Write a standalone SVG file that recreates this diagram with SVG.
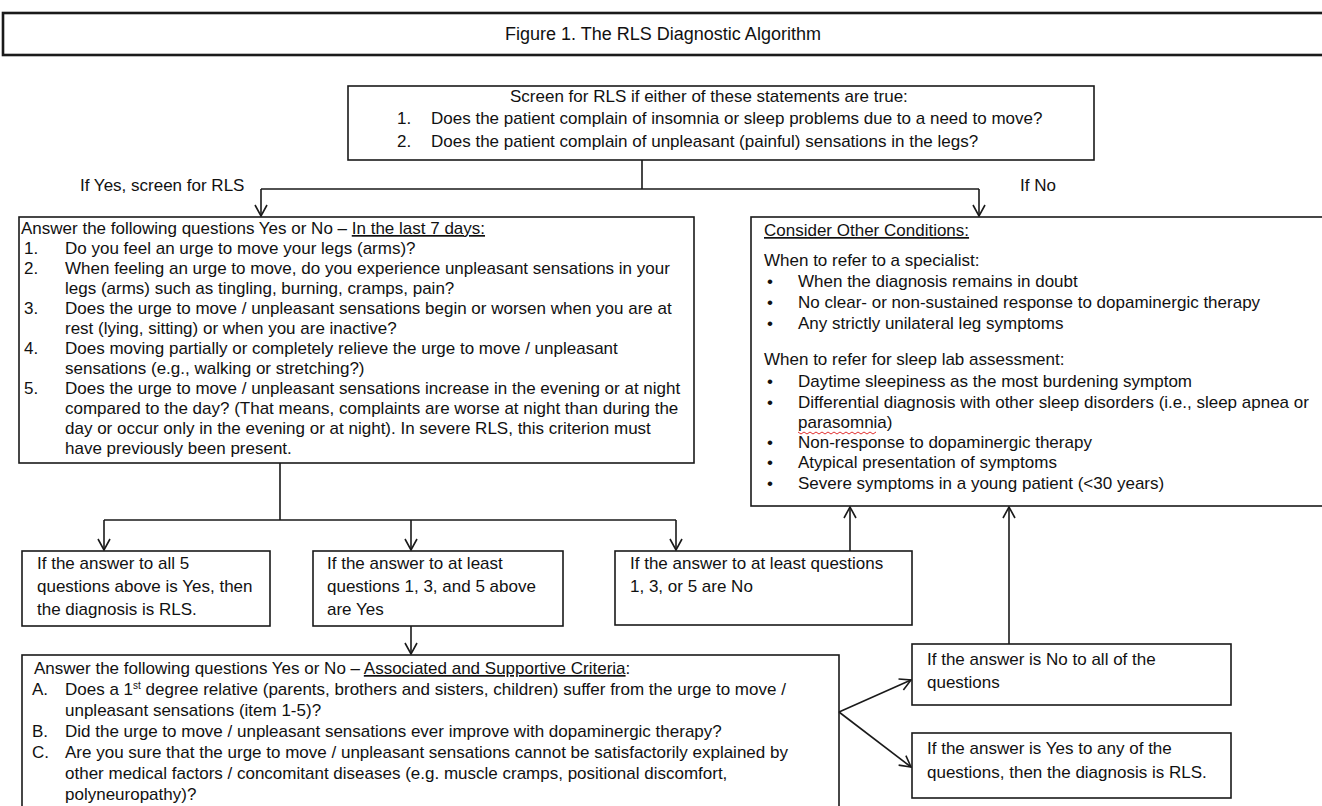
<svg xmlns="http://www.w3.org/2000/svg" width="1322" height="806" viewBox="0 0 1322 806">
<defs>
<style>
.box{fill:#fff;stroke:#1a1a1a;stroke-width:1.6}
.title{fill:#fff;stroke:#1a1a1a;stroke-width:2.6}
.t{font-family:"Liberation Sans",Arial,sans-serif;font-size:17px;fill:#111}
.c{fill:none;stroke:#1a1a1a;stroke-width:1.6}
.u{text-decoration:underline}
</style>
<marker id="ah" viewBox="0 0 14 14" markerUnits="userSpaceOnUse" markerWidth="14" markerHeight="14" refX="13" refY="7" orient="auto">
<path d="M2,1 L13,7 L2,13" fill="none" stroke="#1a1a1a" stroke-width="1.6"/>
</marker>
</defs>
<rect width="1322" height="806" fill="#fff"/>

<g id="title">
<rect class="title" x="3" y="13" width="1330" height="42"/>
<text class="t" x="663" y="40" text-anchor="middle" style="font-size:18px">Figure 1. The RLS Diagnostic Algorithm</text>
</g>

<g id="screen">
<rect class="box" x="348" y="86" width="746" height="74"/>
<text class="t" x="510" y="102">Screen for RLS if either of these statements are true:</text>
<text class="t" x="397" y="124">1.</text>
<text class="t" x="431" y="124">Does the patient complain of insomnia or sleep problems due to a need to move?</text>
<text class="t" x="397" y="147">2.</text>
<text class="t" x="431" y="147">Does the patient complain of unpleasant (painful) sensations in the legs?</text>
</g>

<g id="labels">
<text class="t" x="80" y="191">If Yes, screen for RLS</text>
<text class="t" x="1020" y="191">If No</text>
</g>

<g id="questions">
<rect class="box" x="19" y="217" width="675" height="246"/>
<text class="t" x="21" y="234">Answer the following questions Yes or No – <tspan class="u">In the last 7 days:</tspan></text>
<text class="t" x="24" y="254">1.</text><text class="t" x="65" y="254">Do you feel an urge to move your legs (arms)?</text>
<text class="t" x="24" y="274">2.</text><text class="t" x="65" y="274">When feeling an urge to move, do you experience unpleasant sensations in your</text>
<text class="t" x="65" y="294">legs (arms) such as tingling, burning, cramps, pain?</text>
<text class="t" x="24" y="314">3.</text><text class="t" x="65" y="314">Does the urge to move / unpleasant sensations begin or worsen when you are at</text>
<text class="t" x="65" y="334">rest (lying, sitting) or when you are inactive?</text>
<text class="t" x="24" y="354">4.</text><text class="t" x="65" y="354">Does moving partially or completely relieve the urge to move / unpleasant</text>
<text class="t" x="65" y="374">sensations (e.g., walking or stretching?)</text>
<text class="t" x="24" y="394">5.</text><text class="t" x="65" y="394">Does the urge to move / unpleasant sensations increase in the evening or at night</text>
<text class="t" x="65" y="414">compared to the day? (That means, complaints are worse at night than during the</text>
<text class="t" x="65" y="434">day or occur only in the evening or at night). In severe RLS, this criterion must</text>
<text class="t" x="65" y="454">have previously been present.</text>
</g>

<g id="other">
<rect class="box" x="751" y="217" width="600" height="289"/>
<text class="t u" x="764" y="236">Consider Other Conditions:</text>
<text class="t" x="764" y="266">When to refer to a specialist:</text>
<text class="t" x="767" y="287">•</text><text class="t" x="798" y="287">When the diagnosis remains in doubt</text>
<text class="t" x="767" y="308">•</text><text class="t" x="798" y="308">No clear- or non-sustained response to dopaminergic therapy</text>
<text class="t" x="767" y="329">•</text><text class="t" x="798" y="329">Any strictly unilateral leg symptoms</text>
<text class="t" x="764" y="365">When to refer for sleep lab assessment:</text>
<text class="t" x="767" y="387">•</text><text class="t" x="798" y="387">Daytime sleepiness as the most burdening symptom</text>
<text class="t" x="767" y="408">•</text><text class="t" x="798" y="408">Differential diagnosis with other sleep disorders (i.e., sleep apnea or</text>
<text class="t" x="798" y="428">parasomnia)</text>
<path d="M798,432 l3,2 l3,-2 l3,2 l3,-2 l3,2 l3,-2 l3,2 l3,-2 l3,2 l3,-2 l3,2 l3,-2 l3,2 l3,-2 l3,2 l3,-2 l3,2 l3,-2 l3,2 l3,-2 l3,2 l3,-2 l3,2 l3,-2 l3,2 l3,-2" fill="none" stroke="#e03030" stroke-width="1"/>
<text class="t" x="767" y="448">•</text><text class="t" x="798" y="448">Non-response to dopaminergic therapy</text>
<text class="t" x="767" y="468">•</text><text class="t" x="798" y="468">Atypical presentation of symptoms</text>
<text class="t" x="767" y="489">•</text><text class="t" x="798" y="489">Severe symptoms in a young patient (&lt;30 years)</text>
</g>

<g id="all5">
<rect class="box" x="22" y="551" width="248" height="75"/>
<text class="t" x="37" y="569">If the answer to all 5</text>
<text class="t" x="37" y="592">questions above is Yes, then</text>
<text class="t" x="37" y="615">the diagnosis is RLS.</text>
</g>

<g id="q135yes">
<rect class="box" x="313" y="551" width="250" height="75"/>
<text class="t" x="327" y="569">If the answer to at least</text>
<text class="t" x="327" y="592">questions 1, 3, and 5 above</text>
<text class="t" x="327" y="615">are Yes</text>
</g>

<g id="q135no">
<rect class="box" x="615" y="551" width="297" height="74"/>
<text class="t" x="630" y="569">If the answer to at least questions</text>
<text class="t" x="630" y="592">1, 3, or 5 are No</text>
</g>

<g id="supportive">
<rect class="box" x="22" y="655" width="817" height="170"/>
<text class="t" x="34" y="674">Answer the following questions Yes or No – <tspan class="u">Associated and Supportive Criteria</tspan>:</text>
<text class="t" x="32" y="695">A.</text><text class="t" x="65" y="695">Does a 1<tspan font-size="10" dy="-6">st</tspan><tspan dy="6"> degree relative (parents, brothers and sisters, children) suffer from the urge to move /</tspan></text>
<text class="t" x="65" y="716">unpleasant sensations (item 1-5)?</text>
<text class="t" x="32" y="737">B.</text><text class="t" x="65" y="737">Did the urge to move / unpleasant sensations ever improve with dopaminergic therapy?</text>
<text class="t" x="32" y="758">C.</text><text class="t" x="65" y="758">Are you sure that the urge to move / unpleasant sensations cannot be satisfactorily explained by</text>
<text class="t" x="65" y="779">other medical factors / concomitant diseases (e.g. muscle cramps, positional discomfort,</text>
<text class="t" x="65" y="800">polyneuropathy)?</text>
</g>

<g id="allno">
<rect class="box" x="912" y="644" width="319" height="61"/>
<text class="t" x="927" y="665">If the answer is No to all of the</text>
<text class="t" x="927" y="688">questions</text>
</g>

<g id="anyyes">
<rect class="box" x="912" y="733" width="319" height="65"/>
<text class="t" x="927" y="754">If the answer is Yes to any of the</text>
<text class="t" x="927" y="778">questions, then the diagnosis is RLS.</text>
</g>

<g id="connectors">
<path class="c" d="M642,160 V189 M261,189 H979"/>
<path class="c" d="M261,189 V216" marker-end="url(#ah)"/>
<path class="c" d="M979,189 V216" marker-end="url(#ah)"/>
<path class="c" d="M280,463 V520 M104,520 H676"/>
<path class="c" d="M104,520 V550" marker-end="url(#ah)"/>
<path class="c" d="M411,520 V550" marker-end="url(#ah)"/>
<path class="c" d="M676,520 V550" marker-end="url(#ah)"/>
<path class="c" d="M411,626 V654" marker-end="url(#ah)"/>
<path class="c" d="M850,551 V507" marker-end="url(#ah)"/>
<path class="c" d="M1009,644 V507" marker-end="url(#ah)"/>
<path class="c" d="M839,712 L911,680" marker-end="url(#ah)"/>
<path class="c" d="M839,712 L911,767" marker-end="url(#ah)"/>
</g>
</svg>
